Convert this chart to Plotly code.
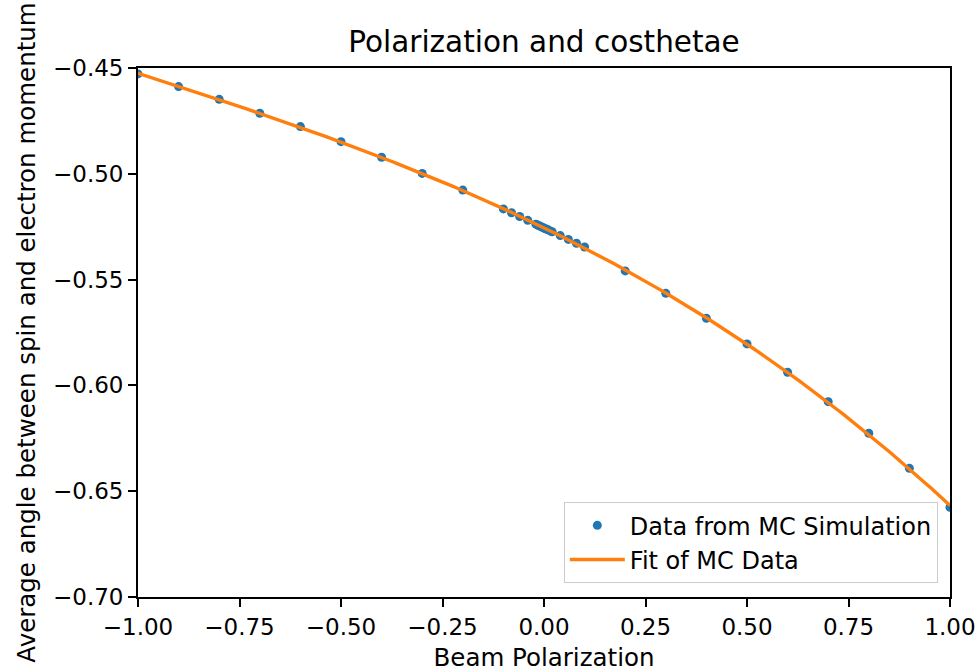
import numpy as np
import plotly.graph_objects as go

# Data
polarization = [-1.0, -0.9, -0.8, -0.7, -0.6, -0.5, -0.4, -0.3, -0.2, -0.1,
                -0.08, -0.06, -0.04, -0.02, -0.015, -0.01, -0.005, 0.0,
                0.005, 0.01, 0.015, 0.02, 0.04, 0.06, 0.08,
                0.1, 0.2, 0.3, 0.4, 0.5, 0.6, 0.7, 0.8, 0.9, 1.0]
costheta = [-0.4528, -0.4588, -0.4648, -0.4714, -0.4777, -0.4848, -0.4922, -0.4998, -0.5077, -0.5166,
            -0.5184, -0.5202, -0.5220, -0.5238, -0.5243, -0.5247, -0.5252, -0.5256,
            -0.5261, -0.5265, -0.5270, -0.5274, -0.5292, -0.5310, -0.5328,
            -0.5346, -0.5459, -0.5565, -0.5683, -0.5804, -0.5938, -0.6077, -0.6226, -0.6392, -0.6576]

x_ticks = [-1.0, -0.75, -0.5, -0.25, 0.0, 0.25, 0.5, 0.75, 1.0]
y_ticks = [-0.70, -0.65, -0.60, -0.55, -0.50, -0.45]

# Fit of the MC data (polynomial fit, as in the original analysis)
coef = np.polyfit(polarization, costheta, 3)
fit_x = np.linspace(-1.0, 1.0, 300)
fit_y = np.polyval(coef, fit_x)

FONT = "DejaVu Sans"

fig = go.Figure()
fig.add_trace(go.Scatter(
    x=polarization, y=costheta, mode="markers",
    marker=dict(color="#1f77b4", size=9),
    name="Data from MC Simulation"))
fig.add_trace(go.Scatter(
    x=fit_x, y=fit_y, mode="lines",
    line=dict(color="#ff7f0e", width=3.4),
    name="Fit of MC Data"))

axis_common = dict(
    showline=True, linecolor="black", linewidth=1.8, mirror=True,
    ticks="outside", ticklen=8, tickwidth=1.8, tickcolor="black",
    showgrid=False, zeroline=False, automargin=False,
    tickfont=dict(family=FONT, size=23, color="black"),
)

fig.update_layout(
    width=979, height=672,
    margin=dict(l=138, r=29, t=68, b=75),
    paper_bgcolor="white", plot_bgcolor="white",
    font=dict(family=FONT, color="black"),
    title=dict(text="Polarization and costhetae", x=0.5, xref="paper",
               y=1 - 42 / 672, yref="container", yanchor="middle",
               font=dict(family=FONT, size=29.5, color="black")),
    xaxis=dict(range=[-1, 1], tickvals=x_ticks, tickformat=".2f",
               title=dict(text="Beam Polarization", font=dict(family=FONT, size=24.5), standoff=12),
               **axis_common),
    yaxis=dict(range=[-0.70, -0.45], tickvals=y_ticks, tickformat=".2f",
               title=dict(text="Average angle between spin and electron momentum",
                          font=dict(family=FONT, size=24.5), standoff=10),
               **axis_common),
    legend=dict(x=0.985, y=0.026, xanchor="right", yanchor="bottom",
                bgcolor="white", bordercolor="#cccccc", borderwidth=1,
                font=dict(family=FONT, size=24, color="black"),
                itemwidth=55, tracegroupgap=0),
    showlegend=True,
)

fig.write_html("out.html")
